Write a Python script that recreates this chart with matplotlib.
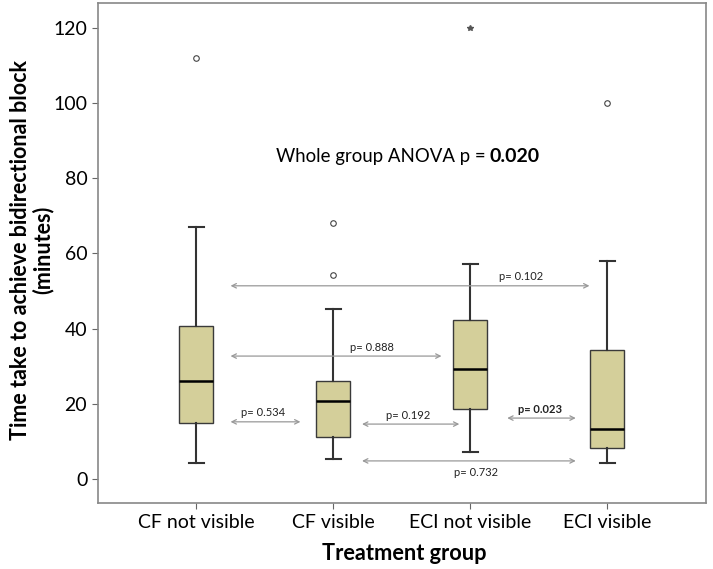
import matplotlib.pyplot as plt
import numpy as np

plt.rcParams['font.family'] = ['Lato', 'DejaVu Sans']

# ===========================
# Data
# ===========================
groups = ["CF not visible", "CF visible", "ECI not visible", "ECI visible"]
whisker_low = [4.3, 5.3, 7.2, 4.3]
q1 = [14.8, 11.2, 18.6, 8.3]
median = [26.1, 20.8, 29.3, 13.3]
q3 = [40.7, 26.1, 42.3, 34.3]
whisker_high = [67.0, 45.2, 57.2, 58.0]
outliers = [[112.0], [54.3, 68.2], [], [100.0]]
extremes = [[], [], [120.0], []]

# pairwise comparisons: (group a, group b, height, label)
pair_a = [1.25, 1.25, 1.25, 2.21, 3.27, 2.21]
pair_b = [1.76, 2.79, 3.87, 2.92, 3.77, 3.77]
pair_y = [15.2, 32.7, 51.4, 14.6, 16.2, 4.8]
pair_text = ["p= 0.534", "p= 0.888", "p= 0.102", "p= 0.192", "p= 0.023", "p= 0.732"]
pair_text_x = [1.49, 2.28, 3.37, 2.55, 3.51, 3.04]
pair_text_y = [17.6, 35.1, 53.9, 16.9, 18.6, 1.6]
pair_bold = [False, False, False, False, True, False]

anova_p = "0.020"

# ===========================
# Plot
# ===========================
fig = plt.figure(figsize=(7.13, 5.69), dpi=100)
ax = fig.add_axes([0.137, 0.116, 0.853, 0.879])

stats = []
for i in range(len(groups)):
    stats.append({
        "whislo": whisker_low[i], "q1": q1[i], "med": median[i],
        "q3": q3[i], "whishi": whisker_high[i], "fliers": outliers[i],
    })

pos = np.arange(1, len(groups) + 1)
bp = ax.bxp(stats, positions=pos, widths=0.25, patch_artist=True, capwidths=0.11,
            boxprops=dict(facecolor="#d4cf9a", edgecolor="#3a3a3a", linewidth=1.0),
            medianprops=dict(color="black", linewidth=1.8),
            whiskerprops=dict(color="#333333", linewidth=1.5),
            capprops=dict(color="#333333", linewidth=1.5),
            flierprops=dict(marker="o", markersize=4, markerfacecolor="none",
                            markeredgecolor="#444444", markeredgewidth=0.8))

for i, ext in enumerate(extremes):
    if ext:
        ax.plot([pos[i]] * len(ext), ext, linestyle="none", marker="*",
                markersize=4, color="#555555")

for a, b, y, t, tx, ty, bold in zip(pair_a, pair_b, pair_y, pair_text,
                                   pair_text_x, pair_text_y, pair_bold):
    ax.annotate("", xy=(a, y), xytext=(b, y),
                arrowprops=dict(arrowstyle="<->", color="#999999", lw=0.9,
                                shrinkA=0, shrinkB=0, mutation_scale=8))
    ax.text(tx, ty, t, ha="center", va="center", fontsize=8,
            fontweight="bold" if bold else "normal", color="#222222")

ax.text(3.11, 85.7, "Whole group ANOVA p =", ha="right", va="center", fontsize=13.4)
ax.text(3.14, 85.7, anova_p, ha="left", va="center", fontsize=14, fontweight="bold")

ax.set_xlim(0.28, 4.72)
ax.set_ylim(-6.4, 126.7)
ax.set_xticks(pos)
ax.set_xticklabels(groups, fontsize=14)
ax.set_yticks(np.arange(0, 121, 20))
ax.tick_params(axis="y", labelsize=14, length=4, color="#666666")
ax.tick_params(axis="x", length=4, color="#666666", pad=4)
for s in ax.spines.values():
    s.set_color("#888888")
    s.set_linewidth(1.2)

fig.text(0.044, 0.56, "Time take to achieve bidirectional block\n(minutes)",
         rotation=90, ha="center", va="center", fontsize=15.5,
         fontweight="bold", linespacing=1.05)
fig.text(0.567, 1 - 553 / 569, "Treatment group", ha="center", va="center",
         fontsize=15.7, fontweight="bold")

plt.savefig("out.png", dpi=100)
